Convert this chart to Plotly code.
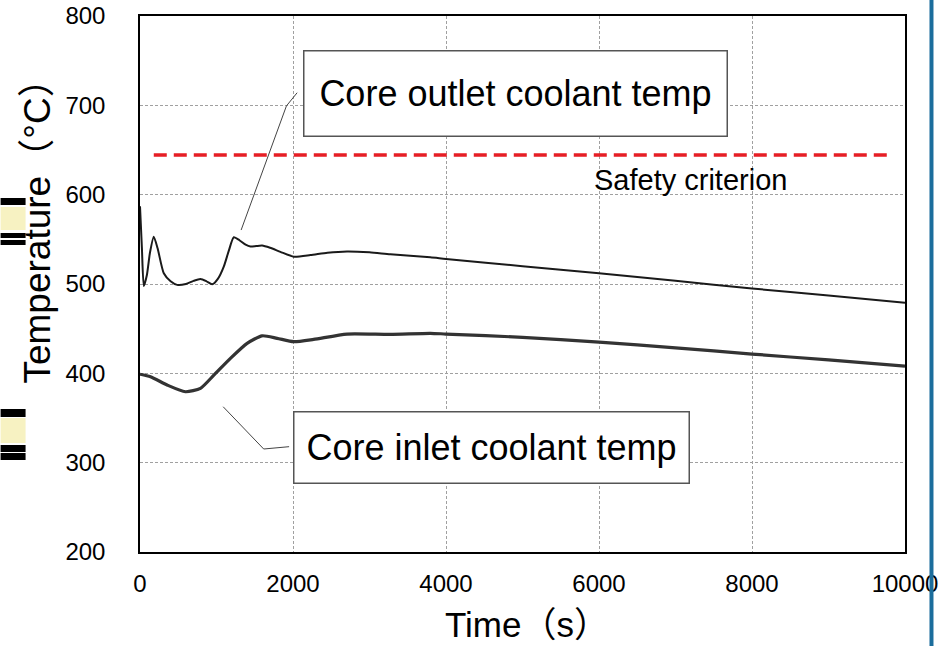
import plotly.graph_objects as go

# ---- data ----
outlet_t = [0, 25, 50, 90, 130, 180, 230, 311, 400, 486, 600, 700, 790, 870, 943,
            1020, 1095, 1160, 1226, 1300, 1380, 1444, 1520, 1596, 1700, 1835,
            2009, 2227, 2450, 2706, 3000, 3272, 3795, 4000, 5000, 6000, 7000,
            8000, 9000, 10000]
outlet_T = [587, 540, 497.7, 510, 535, 553, 540, 512, 503, 499, 500, 503.5, 505.6,
            503, 499.6, 506, 519.4, 537, 552.3, 549, 544, 541.9, 542.5, 543, 540.5,
            536, 530.6, 532.4, 535, 536.5, 535.5, 533.2, 529.9, 528, 520, 512,
            503.5, 495, 487, 479]

inlet_t = [0, 137, 355, 594, 790, 965, 1182, 1400, 1596, 1792, 2009, 2270, 2706,
           3272, 3795, 4000, 5000, 6000, 7000, 8000, 9000, 10000]
inlet_T = [399, 396.2, 386.9, 379.4, 383.2, 398, 416.8, 433.6, 442, 439.2, 435.4,
           438, 444, 443.6, 444.8, 444, 440.3, 435, 428.5, 421.6, 415, 408]

criterion_t = [180, 9800]
criterion_T = [644.5, 644.5]

outlet_leader_t = [1322, 1914, 2054]
outlet_leader_T = [560.4, 699.3, 714.1]
inlet_leader_t = [1087, 1617, 1949]
inlet_leader_T = [362.6, 315.3, 317.9]

x_ticks = [0, 2000, 4000, 6000, 8000, 10000]
y_ticks = [200, 300, 400, 500, 600, 700, 800]

FONT = "Liberation Sans, Arial, Noto Sans CJK JP, sans-serif"

fig = go.Figure()

fig.add_trace(go.Scatter(x=criterion_t, y=criterion_T, mode="lines",
                         line=dict(color="#e61e25", width=3.5, dash="13px,7px"),
                         hoverinfo="skip"))
fig.add_trace(go.Scatter(x=outlet_leader_t, y=outlet_leader_T, mode="lines",
                         line=dict(color="#444", width=1), hoverinfo="skip"))
fig.add_trace(go.Scatter(x=inlet_leader_t, y=inlet_leader_T, mode="lines",
                         line=dict(color="#444", width=1), hoverinfo="skip"))
fig.add_trace(go.Scatter(x=outlet_t, y=outlet_T, mode="lines",
                         line=dict(color="#1a1a1a", width=2, shape="spline", smoothing=0.6),
                         name="Core outlet coolant temp"))
fig.add_trace(go.Scatter(x=inlet_t, y=inlet_T, mode="lines",
                         line=dict(color="#333333", width=3.2, shape="spline", smoothing=0.6),
                         name="Core inlet coolant temp"))

fig.update_layout(
    width=943, height=646,
    margin=dict(l=139.5, r=38, t=16, b=94, autoexpand=False),
    paper_bgcolor="white", plot_bgcolor="white",
    showlegend=False,
    font=dict(family=FONT, color="black"),
)

fig.update_xaxes(range=[0, 10000], tickvals=x_ticks, ticktext=[str(v) for v in x_ticks],
                 showgrid=True, gridcolor="#a0a0a0", griddash="3px,2px", gridwidth=1,
                 showline=True, linecolor="black", linewidth=1.5, mirror=True,
                 ticks="", ticklabelstandoff=9, tickfont=dict(size=24, family=FONT),
                 zeroline=False, automargin=False)
fig.update_yaxes(range=[200, 800], tickvals=y_ticks, ticktext=[str(v) for v in y_ticks],
                 showgrid=True, gridcolor="#a0a0a0", griddash="3px,2px", gridwidth=1,
                 showline=True, linecolor="black", linewidth=1.5, mirror=True,
                 ticks="", ticklabelstandoff=28, tickfont=dict(size=24, family=FONT),
                 zeroline=False, automargin=False)

# label boxes
fig.add_annotation(x=4905, y=713.8, xref="x", yref="y", text="Core outlet coolant temp",
                   showarrow=False, font=dict(size=36, family=FONT, color="black"),
                   bgcolor="white", bordercolor="#555", borderwidth=1.5, borderpad=0,
                   width=422, height=84, align="center", valign="middle",
                   xanchor="center", yanchor="middle")
fig.add_annotation(x=4601, y=317.5, xref="x", yref="y", text="Core inlet coolant temp",
                   showarrow=False, font=dict(size=36, family=FONT, color="black"),
                   bgcolor="white", bordercolor="#555", borderwidth=1.5, borderpad=0,
                   width=394, height=70, align="center", valign="middle",
                   xanchor="center", yanchor="middle")
fig.add_annotation(x=7191, y=616.4, xref="x", yref="y", text="Safety criterion",
                   showarrow=False, font=dict(size=29, family=FONT, color="black"),
                   xanchor="center", yanchor="middle")

# axis titles
fig.add_annotation(x=(527 - 139.5) / 765.5, y=(552 - 624) / 536, xref="paper", yref="paper",
                   text="Time（s）", showarrow=False, xanchor="center", yanchor="middle",
                   font=dict(size=35, family=FONT, color="black"))
fig.add_annotation(x=(36 - 139.5) / 765.5, y=(552 - 222) / 536, xref="paper", yref="paper",
                   text="Temperature（°C）", showarrow=False, textangle=-90,
                   xanchor="center", yanchor="middle",
                   font=dict(size=37, family=FONT, color="black"))

# decorative slide remnants: blue frame line at right, cropped marks at left
def px_x(p):
    return (p - 139.5) / 765.5

def px_y(p):
    return (552 - p) / 536

fig.add_shape(type="line", xref="paper", yref="paper",
              x0=px_x(931.5), x1=px_x(931.5), y0=px_y(0), y1=px_y(646),
              line=dict(color="#1b6d9c", width=4))
for (a, b, col) in [(207, 230, "#f7f2c2"), (198, 205, "black"), (233, 238, "black"),
                    (240, 245, "black"), (418, 443, "#f7f2c2"), (409, 417, "black"),
                    (445, 452, "black"), (453, 460, "black")]:
    fig.add_shape(type="rect", xref="paper", yref="paper",
                  x0=px_x(0), x1=px_x(25), y0=px_y(b), y1=px_y(a),
                  fillcolor=col, line=dict(width=0), layer="above")

fig.write_html(
    "out.html",
    config={"displayModeBar": False},
    post_script="document.body.style.margin='0';document.body.style.overflow='hidden';",
)
